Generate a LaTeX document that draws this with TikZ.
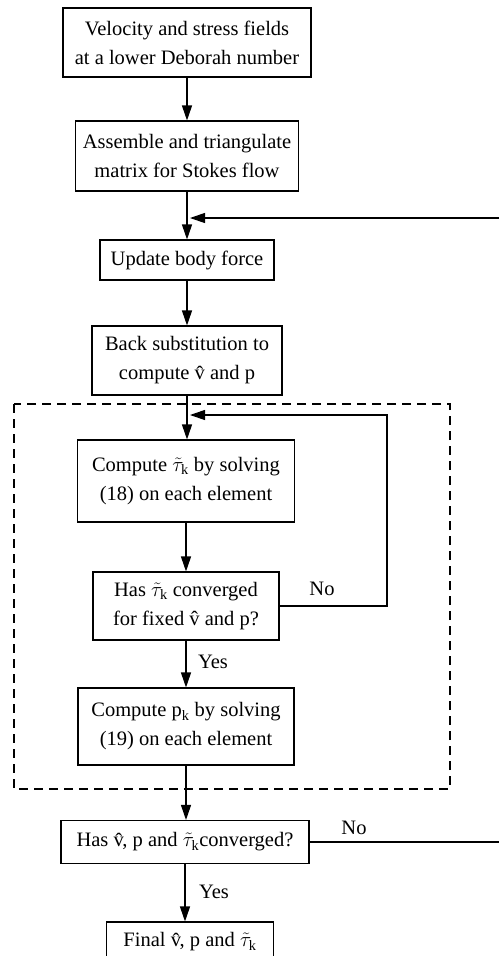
\documentclass[tikz,border=0pt]{standalone}
\usepackage{fontspec}
\setmainfont{Liberation Serif}
\usetikzlibrary{arrows.meta}
\newcommand{\vh}{\^{v}}
\newcommand{\tk}{$\tilde{\tau}_{\mathrm{k}}$}
\begin{document}
\begin{tikzpicture}[x=1pt,y=-1pt,
  box/.style={draw,line width=1.1pt,align=center,inner sep=0pt,font=\fontsize{20.5}{29}\selectfont},
  lbl/.style={font=\fontsize{20.5}{22}\selectfont,inner sep=0pt},
  arr/.style={line width=1.1pt,-{Triangle[length=15pt,width=10pt]}},
  ln/.style={line width=1.1pt}]
\useasboundingbox (0,0) rectangle (499,956);
\node[box,minimum width=248pt,minimum height=69pt] (b1) at (187,42.5) {Velocity and stress fields\\at a lower Deborah number};
\node[box,minimum width=223pt,minimum height=70pt] (b2) at (187,156) {Assemble and triangulate\\matrix for Stokes flow};
\node[box,minimum width=174pt,minimum height=40pt] (b3) at (187,260) {Update body force};
\node[box,minimum width=190pt,minimum height=69pt] (b4) at (187,360.5) {Back substitution to\\compute \vh{} and p};
\node[box,minimum width=217pt,minimum height=82pt] (b5) at (186,481) {Compute \tk{} by solving\\(18) on each element};
\node[box,minimum width=186pt,minimum height=68pt] (b6) at (186,606) {Has \tk{} converged\\for fixed \vh{} and p?};
\node[box,minimum width=216pt,minimum height=77pt] (b7) at (186,726.5) {Compute p$_{\mathrm{k}}$ by solving\\(19) on each element};
\node[box,minimum width=248pt,minimum height=43pt] (b8) at (185,842) {Has \vh, p and \tk converged?};
\node[box,minimum width=167pt,minimum height=40pt] (b9) at (190,942) {Final \vh, p and \tk};
\draw[line width=1.1pt,dash pattern=on 9pt off 6pt] (14,404) rectangle (450,789);
\coordinate (m1) at (187,218);
\coordinate (r1) at (499,218);
\coordinate (m2) at (187,415);
\coordinate (c1) at (387,606);
\coordinate (c2) at (387,415);
\coordinate (r2) at (499,842);
\draw[arr] (b1) -- (b2);
\draw[arr] (b2.south) -- (m1) -- (b3.north);
\draw[arr] (r1) -- (190,218);
\draw[arr] (b3) -- (b4);
\draw[arr] (b4.south) -- (m2) -- (b4.south |- b5.north);
\draw[arr] (b6.east) -- (c1) -- (c2) -- (190,415);
\draw[arr] (b5) -- (b6);
\draw[arr] (b6) -- (b7);
\draw[arr] (b7.south) -- (b7.south |- b8.north);
\draw[arr] (b8.south) -- (b8.south |- b9.north);
\draw[ln] (b8.east) -- (r2);
\node[lbl] (no1) at (322,589) {No};
\node[lbl] (yes1) at (213,662) {Yes};
\node[lbl] (no2) at (354,828) {No};
\node[lbl] (yes2) at (214,892) {Yes};
\end{tikzpicture}
\end{document}
